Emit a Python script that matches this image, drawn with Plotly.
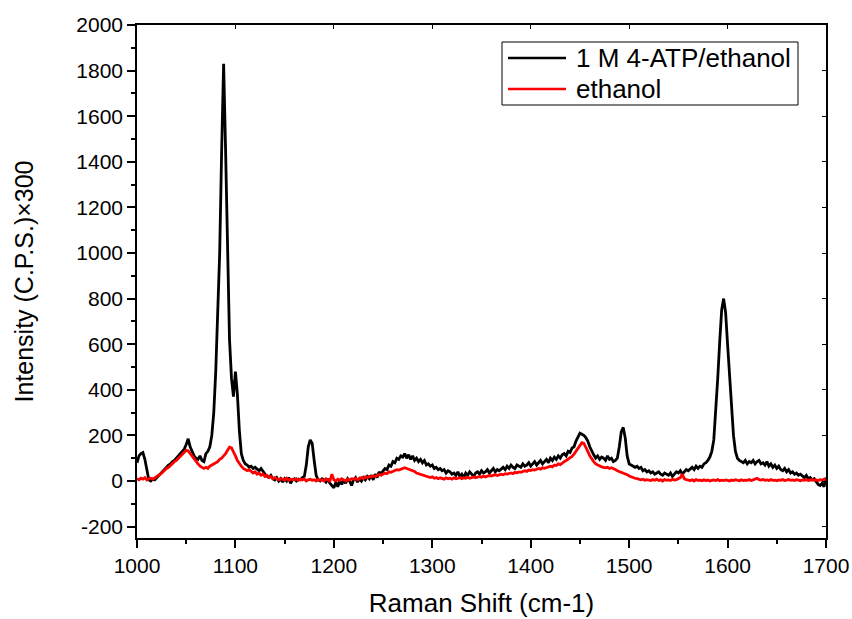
import plotly.graph_objects as go

# Raman shift grid (cm-1), 2 cm-1 step from 1000 to 1700
raman_shift = list(range(1000, 1701, 2))

# 1 M 4-ATP/ethanol
atp_ethanol = [
    80, 110, 120, 125, 95, 40, 5, 0, 8, 5,            # 1000-1018
    15, 20, 35, 45, 55, 60, 70, 75, 85, 90,           # 1020-1038
    100, 110, 115, 130, 140, 160, 185, 150, 125, 110, # 1040-1058
    100, 95, 110, 90, 85, 120, 130, 150, 200, 300,    # 1060-1078
    480, 720, 1000, 1450, 1830, 1450, 950, 620, 450, 370,  # 1080-1098
    480, 380, 220, 120, 90, 75, 70, 60, 65, 55,       # 1100-1118
    60, 50, 45, 55, 40, 30, 20, 15, 25, 10,           # 1120-1138
    5, 15, 0, 10, -5, 10, 0, 15, -10, 5,              # 1140-1158
    10, 0, 8, 5, 15, 20, 70, 150, 180, 165,           # 1160-1178
    90, 25, 5, 0, 10, 5, -5, 10, -10, -20,            # 1180-1198
    -30, -5, -25, 0, -15, 5, -10, 10, 0, -20,         # 1200-1218
    5, 15, -5, 10, 0, 15, 5, 20, 10, 25,              # 1220-1238
    5, 30, 15, 40, 30, 45, 55, 50, 70, 65,            # 1240-1258
    85, 80, 100, 95, 110, 105, 120, 100, 115, 95,     # 1260-1278
    110, 90, 100, 85, 95, 80, 90, 70, 75, 65,         # 1280-1298
    70, 55, 60, 50, 55, 45, 50, 35, 45, 40,           # 1300-1318
    30, 35, 25, 40, 20, 30, 15, 35, 25, 40,           # 1320-1338
    30, 20, 35, 40, 30, 45, 35, 40, 50, 35,           # 1340-1358
    45, 55, 40, 50, 45, 55, 60, 50, 65, 55,           # 1360-1378
    70, 60, 55, 70, 65, 60, 75, 65, 70, 80,           # 1380-1398
    65, 75, 85, 70, 80, 90, 75, 85, 95, 80,           # 1400-1418
    100, 90, 105, 95, 110, 100, 115, 120, 110, 130,   # 1420-1438
    125, 145, 150, 175, 195, 210, 205, 200, 190, 175, # 1440-1458
    150, 130, 115, 100, 110, 95, 105, 100, 90, 110,   # 1460-1478
    95, 100, 85, 90, 100, 150, 215, 235, 190, 110,    # 1480-1498
    75, 70, 65, 60, 65, 55, 60, 45, 50, 40,           # 1500-1518
    45, 35, 40, 30, 35, 40, 30, 25, 35, 30,           # 1520-1538
    25, 35, 20, 30, 40, 35, 45, 30, 40, 50,           # 1540-1558
    45, 55, 60, 50, 65, 55, 65, 60, 75, 80,           # 1560-1578
    90, 105, 130, 180, 300, 450, 610, 750, 800, 740,  # 1580-1598
    600, 450, 320, 200, 130, 100, 90, 85, 80, 90,     # 1600-1618
    75, 85, 80, 90, 75, 85, 90, 75, 80, 70,           # 1620-1638
    85, 65, 75, 60, 70, 55, 65, 50, 45, 55,           # 1640-1658
    40, 50, 35, 40, 30, 35, 25, 30, 20, 15,           # 1660-1678
    25, 10, 15, 5, 10, -5, -15, -20, -10, -25,        # 1680-1698
    15,                                               # 1700
]

# ethanol
ethanol = [
    10, 5, 12, 8, 15, 5, 10, 12, 8, 15,               # 1000-1018
    20, 25, 30, 40, 45, 55, 60, 70, 75, 85,           # 1020-1038
    90, 100, 108, 118, 128, 135, 132, 120, 108, 95,   # 1040-1058
    85, 75, 65, 60, 55, 60, 55, 65, 70, 75,           # 1060-1078
    80, 85, 95, 100, 110, 120, 135, 148, 145, 130,    # 1080-1098
    110, 90, 75, 65, 55, 50, 45, 50, 40, 35,          # 1100-1118
    40, 30, 35, 25, 30, 20, 25, 15, 20, 10,           # 1120-1138
    15, 10, 5, 10, 8, 5, 12, 3, 8, 5,                 # 1140-1158
    5, 10, 3, 8, 5, 10, 0, 5, 8, 3,                   # 1160-1178
    5, 0, 8, 3, 5, 0, 10, 5, 0, 30,                   # 1180-1198
    5, 0, 8, 3, 10, 5, 0, 8, 5, 10,                   # 1200-1218
    8, 12, 5, 10, 15, 10, 18, 15, 20, 18,             # 1220-1238
    22, 20, 25, 28, 25, 30, 35, 32, 40, 38,           # 1240-1258
    42, 45, 50, 48, 52, 55, 58, 55, 52, 50,           # 1260-1278
    45, 42, 35, 32, 28, 25, 22, 20, 18, 15,           # 1280-1298
    18, 12, 15, 10, 14, 12, 8, 14, 10, 12,            # 1300-1318
    8, 14, 10, 12, 15, 10, 14, 12, 16, 12,            # 1320-1338
    15, 18, 14, 16, 20, 17, 22, 18, 20, 24,           # 1340-1358
    22, 25, 28, 24, 28, 30, 27, 32, 30, 34,           # 1360-1378
    35, 32, 38, 36, 40, 38, 42, 45, 42, 48,           # 1380-1398
    46, 50, 48, 52, 55, 52, 58, 56, 60, 62,           # 1400-1418
    65, 62, 70, 68, 75, 72, 80, 85, 90, 95,           # 1420-1438
    100, 108, 118, 130, 145, 158, 168, 165, 150, 130, # 1440-1458
    110, 95, 85, 75, 70, 65, 62, 60, 58, 60,          # 1460-1478
    55, 58, 52, 50, 45, 42, 38, 35, 30, 28,           # 1480-1498
    22, 18, 15, 12, 10, 8, 5, 8, 3, 6,                # 1500-1518
    4, 2, 6, 3, 8, 2, 5, 0, 6, 3,                     # 1520-1538
    5, 2, 8, 4, 6, 10, 15, 30, 10, 6,                 # 1540-1558
    4, 2, 5, 0, 6, 3, 4, 1, 5, 2,                     # 1560-1578
    4, 0, 3, 5, 2, 6, 1, 4, 2, 5,                     # 1580-1598
    3, 0, 4, 2, 6, 3, 1, 5, 2, 4,                     # 1600-1618
    3, 6, 2, 5, 8, 12, 6, 4, 7, 3,                    # 1620-1638
    5, 2, 6, 3, 4, 1, 5, 3, 6, 2,                     # 1640-1658
    4, 7, 3, 5, 2, 6, 4, 1, 5, 3,                     # 1660-1678
    6, 2, 4, 7, 3, 5, 2, 6, 4, 8,                     # 1680-1698
    5,                                                # 1700
]

series_names = ["1 M 4-ATP/ethanol", "ethanol"]
series_colors = ["black", "#ff0000"]
x_title = "Raman Shift (cm-1)"
y_title = "Intensity (C.P.S.)×300"
x_tickvals = [1000, 1100, 1200, 1300, 1400, 1500, 1600, 1700]
y_tickvals = [-200, 0, 200, 400, 600, 800, 1000, 1200, 1400, 1600, 1800, 2000]
y_ticktext = ["-200", "0", "200", "400", "600", "800", "1000", "1200",
              "1400", "1600", "1800", "2000"]

FONT = "Liberation Sans, Arial, sans-serif"

fig = go.Figure()
for name, vals, col in zip(series_names, [atp_ethanol, ethanol], series_colors):
    fig.add_trace(go.Scatter(x=raman_shift, y=vals, mode="lines", name=name,
                             line=dict(color=col, width=2.8), showlegend=False))

axis_common = dict(showgrid=False, zeroline=False, showline=True, linecolor="black",
                   linewidth=1.5, ticks="outside", ticklen=8, tickwidth=1.5,
                   tickcolor="black", automargin=False,
                   tickfont=dict(family=FONT, size=21, color="black"))

fig.update_layout(
    width=852, height=619,
    margin=dict(l=137, r=26, t=25, b=81),
    paper_bgcolor="white", plot_bgcolor="white",
    font=dict(family=FONT, color="black"),
    xaxis=dict(range=[1000, 1700], tickvals=x_tickvals,
               minor=dict(dtick=50, tick0=1000, ticks="outside", ticklen=4, tickwidth=1.5, tickcolor="black"),
               title=dict(text=x_title, font=dict(family=FONT, size=26), standoff=18),
               mirror=True, **axis_common),
    yaxis=dict(range=[-250, 2000], tickvals=y_tickvals, ticktext=y_ticktext,
               minor=dict(dtick=100, tick0=0, ticks="outside", ticklen=4, tickwidth=1.5, tickcolor="black"),
               title=dict(text=y_title, font=dict(family=FONT, size=25), standoff=36),
               mirror=True, **axis_common),
    xaxis2=dict(overlaying="x", side="top", range=[1000, 1700], tickvals=x_tickvals,
                ticks="inside", ticklen=4, tickwidth=1, tickcolor="black", automargin=False,
                showticklabels=False, showgrid=False, zeroline=False, showline=False),
    yaxis2=dict(overlaying="y", side="right", range=[-250, 2000], tickvals=y_tickvals,
                ticks="inside", ticklen=4, tickwidth=1, tickcolor="black", automargin=False,
                showticklabels=False, showgrid=False, zeroline=False, showline=False),
    showlegend=False,
)
# invisible trace to activate the mirrored inside-tick axes
fig.add_trace(go.Scatter(x=[1000], y=[0], xaxis="x2", yaxis="y2", mode="markers",
                         marker=dict(opacity=0), showlegend=False, hoverinfo="skip"))

# legend box (paper coordinates of plot area)
def px_to_paper_x(px):
    return (px - 137) / 689

def px_to_paper_y(py):
    return (538 - py) / 513

fig.add_shape(type="rect", xref="paper", yref="paper",
              x0=px_to_paper_x(502), x1=px_to_paper_x(798),
              y0=px_to_paper_y(105), y1=px_to_paper_y(42),
              line=dict(color="black", width=1), fillcolor="white", layer="above")
for i, (name, col) in enumerate(zip(series_names, series_colors)):
    yc = 58 + i * 31
    fig.add_shape(type="line", xref="paper", yref="paper",
                  x0=px_to_paper_x(508), x1=px_to_paper_x(566),
                  y0=px_to_paper_y(yc), y1=px_to_paper_y(yc),
                  line=dict(color=col, width=2.5), layer="above")
    fig.add_annotation(xref="paper", yref="paper", x=px_to_paper_x(574), y=px_to_paper_y(yc),
                       xanchor="left", yanchor="middle", text=name, showarrow=False,
                       font=dict(family=FONT, size=26, color="black"))

fig.write_html("out.html")
